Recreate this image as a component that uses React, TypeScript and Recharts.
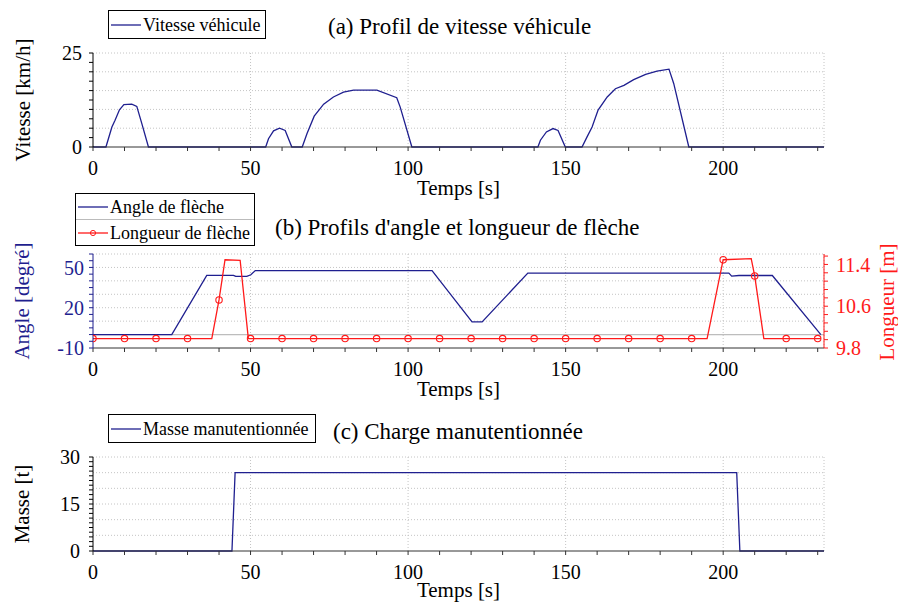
import React from 'react';
import {
	LineChart, Line, XAxis, YAxis, CartesianGrid, ReferenceLine, Legend,
} from 'recharts';

const FONT = '"Liberation Serif", "DejaVu Serif", serif';
const NAVY = '#1f1f8f';
const RED = '#ff1a1a';
const GRID = '#c4c4c4';
const AXIS = '#333';

// shared time axis
const timeTicks = [0, 10, 20, 30, 40, 50, 60, 70, 80, 90, 100, 110, 120, 130, 140, 150, 160, 170, 180, 190, 200, 210, 220, 230];
const timeLabels = [0, 50, 100, 150, 200];
const timeGrid = [50, 100, 150, 200, 232];

// (a) vitesse vehicule
const speedTime = [0, 4.1, 6, 7, 8.4, 9.8, 12.3, 13.9, 15.5, 17.6, 54.8, 55.7, 57.3, 59.2, 61, 63.1, 66.4, 67.9, 70.2, 73.2, 76.3, 79.5, 82.7, 90.1, 96.4, 97.5, 101.2, 141.2, 142, 143.9, 146, 147.6, 149.9, 155.2, 156.8, 158.4, 160.3, 163.2, 165.8, 168.5, 171.6, 175.4, 179, 182.8, 184.3, 189.1, 232];
const speedValue = [0, 0, 5.3, 7.1, 9.9, 11.3, 11.4, 10.8, 6.2, 0, 0, 2.2, 4.3, 5.0, 4.4, 0, 0, 3.5, 8.2, 11.4, 13.3, 14.6, 15.1, 15.1, 13.1, 10.6, 0, 0, 1.8, 4.0, 4.9, 4.4, 0, 0, 2.7, 5.3, 9.8, 13.3, 15.5, 16.4, 17.9, 19.3, 20.2, 20.7, 16.9, 0, 0];
const speedTicks = [0, 2.5, 5, 7.5, 10, 12.5, 15, 17.5, 20, 22.5, 25];
const speedLabels = [0, 25];
const speedGrid = [5, 10, 15, 20, 25];

// (b) angle et longueur de fleche
const angleTime = [0, 25, 36.1, 44.6, 45.3, 48.8, 50.1, 51.5, 107.6, 120.3, 123.5, 138, 201.8, 202.7, 205, 215.6, 231];
const angleValue = [0, 0, 44.1, 44.1, 43.3, 43.3, 44.5, 47.6, 47.6, 9.4, 9.4, 45.8, 45.8, 43.5, 44, 44, 0];
const angleTicks = [-10, -5, 0, 5, 10, 15, 20, 25, 30, 35, 40, 45, 50, 55, 60];
const angleLabels = [-10, 20, 50];
const angleGrid = [10, 20, 30, 40, 50, 60];

const lengthTime = [0, 10, 20, 30, 37.7, 40, 41.9, 46.7, 49.3, 50, 60, 70, 80, 90, 100, 110, 120, 130, 140, 150, 160, 170, 180, 190, 194.9, 200, 208.9, 210, 212.9, 220, 230, 231];
const lengthValue = [9.98, 9.98, 9.98, 9.98, 9.98, 10.72, 11.49, 11.48, 9.98, 9.98, 9.98, 9.98, 9.98, 9.98, 9.98, 9.98, 9.98, 9.98, 9.98, 9.98, 9.98, 9.98, 9.98, 9.98, 9.98, 11.49, 11.51, 11.18, 9.98, 9.98, 9.98, 9.98];
const lengthTicks = [9.8, 9.96, 10.12, 10.28, 10.44, 10.6, 10.76, 10.92, 11.08, 11.24, 11.4, 11.56];
const lengthLabels = [9.8, 10.6, 11.4];

// (c) charge manutentionnee
const massTime = [0, 44.1, 45.1, 204.3, 205.3, 232];
const massValue = [0, 0, 25, 25, 0, 0];
const massTicks = [0, 1.5, 3, 4.5, 6, 7.5, 9, 10.5, 12, 13.5, 15, 16.5, 18, 19.5, 21, 22.5, 24, 25.5, 27, 28.5, 30];
const massLabels = [0, 15, 30];
const massGrid = [5, 10, 15, 20, 25, 30];

const speedData = speedTime.map((t, i) => ({ t, v: speedValue[i] }));
const angleData = angleTime.map((t, i) => ({ t, a: angleValue[i] }));
const lengthData = lengthTime.map((t, i) => ({ t, l: lengthValue[i] }));
const massData = massTime.map((t, i) => ({ t, m: massValue[i] }));

const onlyIn = (list: number[], digits = 0) => (v: number) =>
	list.some(x => Math.abs(x - v) < 1e-6) ? v.toFixed(digits) : '';

const tickStyle = (fill = '#000') => ({ fontSize: 20, fill, fontFamily: FONT });

const lengthDot = (props: any) => {
	const { cx, cy, payload, index } = props;
	if (payload.t % 10 !== 0) return <g key={`d${index}`} />;
	return <circle key={`d${index}`} cx={cx} cy={cy} r={3.2} fill="none" stroke={RED} strokeWidth={1.1} />;
};

const BoxLegend = ({ payload, width, rowHeight }: any) => (
	<div style={{
		width, border: '1px solid #000', background: '#fff', boxSizing: 'border-box',
		fontFamily: FONT, fontSize: 18, color: '#000',
	}}>
		{(payload || []).map((entry: any, i: number) => (
			<div key={i} style={{
				display: 'flex', alignItems: 'center', height: rowHeight,
				borderTop: i > 0 ? '1px solid #bbb' : 'none',
			}}>
				<svg width={32} height={14} style={{ marginLeft: 2, flex: 'none' }}>
					<line x1={0} y1={7} x2={30} y2={7} stroke={entry.color} strokeWidth={1.3} />
					{entry.color === RED && <circle cx={15} cy={7} r={2.6} fill="none" stroke={RED} strokeWidth={1} />}
				</svg>
				<span style={{ whiteSpace: 'nowrap', lineHeight: 1 }}>{entry.value}</span>
			</div>
		))}
	</div>
);

const xAxisProps = (offset: number) => ({
	dataKey: 't',
	type: 'number' as const,
	domain: [0, 232],
	ticks: timeTicks,
	interval: 0 as const,
	tickFormatter: onlyIn(timeLabels),
	tick: tickStyle(),
	tickSize: 4,
	tickMargin: 10,
	stroke: AXIS,
	height: 50,
	allowDataOverflow: true,
	label: { value: 'Temps [s]', position: 'insideBottom' as const, offset, fontSize: 21, fill: '#000', fontFamily: FONT },
});

const legendProps = (left: number, top: number) => ({
	layout: 'vertical' as const,
	align: 'center' as const,
	verticalAlign: 'middle' as const,
	wrapperStyle: { left, top, width: 'auto', height: 'auto' },
});

const title = (text: string, left: number, top: number) => (
	<div style={{ position: 'absolute', left, top, fontSize: 23, lineHeight: 1, whiteSpace: 'nowrap' }}>{text}</div>
);

const yTitle = (text: string, x: number, y: number, color = '#000') => (
	<div style={{
		position: 'absolute', left: x, top: y, fontSize: 21, lineHeight: 1, color,
		whiteSpace: 'nowrap', transform: 'translate(-50%, -50%) rotate(-90deg)',
	}}>{text}</div>
);

export default function App() {
	return (
		<div style={{ position: 'absolute', left: 0, top: 0, width: 898, height: 606, background: '#fff', fontFamily: FONT }}>
			<div style={{ position: 'absolute', left: 0, top: 0 }}>
				<LineChart width={898} height={200} data={speedData} margin={{ top: 53, right: 74, bottom: 3, left: 0 }}>
					<CartesianGrid stroke={GRID} strokeDasharray="1 2" horizontalValues={speedGrid} verticalValues={timeGrid} />
					<XAxis {...xAxisProps(2)} />
					<YAxis
						type="number" domain={[0, 25]} ticks={speedTicks} interval={0}
						tickFormatter={onlyIn(speedLabels)} tick={tickStyle()} tickSize={4} tickMargin={7}
						stroke="#000" width={93}
					/>
					<Legend {...legendProps(108, 10)} content={(p: any) => <BoxLegend payload={p.payload} width={158} rowHeight={27} />} />
					<Line dataKey="v" name="Vitesse véhicule" type="linear" stroke={NAVY} strokeWidth={1.3} dot={false} isAnimationActive={false} />
				</LineChart>
			</div>

			<div style={{ position: 'absolute', left: 0, top: 190 }}>
				<LineChart width={898} height={210} margin={{ top: 64, right: 24, bottom: 2, left: 0 }}>
					<CartesianGrid yAxisId="a" stroke={GRID} strokeDasharray="1 2" horizontalValues={angleGrid} verticalValues={timeGrid} />
					<XAxis {...xAxisProps(2)} />
					<YAxis
						yAxisId="a" type="number" domain={[-10, 60]} ticks={angleTicks} interval={0}
						tickFormatter={onlyIn(angleLabels)} tick={tickStyle(NAVY)} tickSize={4} tickMargin={5}
						stroke={NAVY} width={93}
					/>
					<YAxis
						yAxisId="l" orientation="right" type="number" domain={[9.8, 11.6]} ticks={lengthTicks} interval={0}
						tickFormatter={onlyIn(lengthLabels, 1)} tick={tickStyle(RED)} tickSize={4} tickMargin={8}
						stroke={RED} width={50}
					/>
					<ReferenceLine yAxisId="a" y={0} stroke="#bdbdbd" strokeWidth={1.2} />
					<Legend {...legendProps(75, 3)} content={(p: any) => <BoxLegend payload={p.payload} width={180} rowHeight={25} />} />
					<Line yAxisId="a" data={angleData} dataKey="a" name="Angle de flèche" type="linear" stroke={NAVY} strokeWidth={1.3} dot={false} isAnimationActive={false} />
					<Line yAxisId="l" data={lengthData} dataKey="l" name="Longueur de flèche" type="linear" stroke={RED} strokeWidth={1.3} dot={lengthDot} activeDot={false} isAnimationActive={false} />
				</LineChart>
			</div>

			<div style={{ position: 'absolute', left: 0, top: 400 }}>
				<LineChart width={898} height={206} data={massData} margin={{ top: 57, right: 74, bottom: 5, left: 0 }}>
					<CartesianGrid stroke={GRID} strokeDasharray="1 2" horizontalValues={massGrid} verticalValues={timeGrid} />
					<XAxis {...xAxisProps(4)} />
					<YAxis
						type="number" domain={[0, 30]} ticks={massTicks} interval={0}
						tickFormatter={onlyIn(massLabels)} tick={tickStyle()} tickSize={4} tickMargin={9}
						stroke="#000" width={93}
					/>
					<Legend {...legendProps(108, 14)} content={(p: any) => <BoxLegend payload={p.payload} width={208} rowHeight={27} />} />
					<Line dataKey="m" name="Masse manutentionnée" type="linear" stroke={NAVY} strokeWidth={1.3} dot={false} isAnimationActive={false} />
				</LineChart>
			</div>

			{title('(a) Profil de vitesse véhicule', 328, 15)}
			{title("(b) Profils d'angle et longueur de flèche", 275, 216)}
			{title('(c) Charge manutentionnée', 333, 420)}
			{yTitle('Vitesse [km/h]', 23, 100)}
			{yTitle('Angle [degré]', 22, 301, NAVY)}
			{yTitle('Longueur [m]', 887, 302, RED)}
			{yTitle('Masse [t]', 22, 504)}
		</div>
	);
}
